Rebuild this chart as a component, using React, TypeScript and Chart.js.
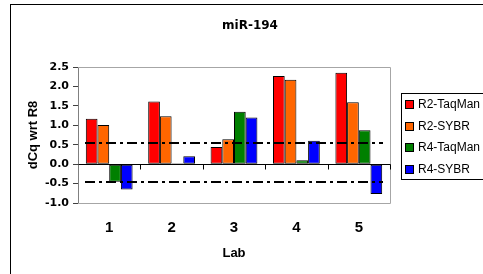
import React, { useEffect, useRef } from "react";
import { Chart, registerables } from "chart.js";

Chart.register(...registerables);

const chartTitle = "miR-194";
const xTitle = "Lab";
const yTitle = "dCq wrt R8";
const categories = ["1", "2", "3", "4", "5"];
const seriesNames = ["R2-TaqMan", "R2-SYBR", "R4-TaqMan", "R4-SYBR"];
const seriesColors = ["#FF0000", "#FF6600", "#008000", "#0000FF"];
const r2TaqMan = [1.17, 1.61, 0.44, 2.27, 2.35];
const r2Sybr = [1.01, 1.23, 0.64, 2.17, 1.59];
const r4TaqMan = [-0.45, 0.02, 1.35, 0.1, 0.87];
const r4Sybr = [-0.65, 0.2, 1.2, 0.6, -0.77];
const thresholds = [0.55, -0.45];
const yMin = -1.0;
const yMax = 2.5;
const yStep = 0.5;

const decor = {
  id: "decor",
  beforeDraw(chart: any) {
    const { ctx, width, height } = chart;
    ctx.save();
    ctx.fillStyle = "#ffffff";
    ctx.fillRect(0, 0, width, height);
    ctx.restore();
  },
  afterDatasetsDraw(chart: any) {
    const { ctx, chartArea: a, scales } = chart;
    const xs = scales.x;
    const ys = scales.y;
    ctx.save();
    // plot border
    ctx.strokeStyle = "#a6a6a6";
    ctx.lineWidth = 1;
    const L = Math.round(a.left) + 0.5;
    const T = Math.round(a.top) + 0.5;
    const R = Math.round(a.right) + 0.5;
    const B = Math.round(a.bottom) + 0.5;
    ctx.beginPath();
    ctx.moveTo(L, T);
    ctx.lineTo(R, T);
    ctx.lineTo(R, B);
    ctx.lineTo(L, B);
    ctx.stroke();
    ctx.strokeStyle = "#808080";
    ctx.beginPath();
    ctx.moveTo(L, T);
    ctx.lineTo(L, B);
    ctx.stroke();

    // zero line with category ticks
    const y0 = Math.round(ys.getPixelForValue(0)) + 0.5;
    ctx.strokeStyle = "#000000";
    ctx.beginPath();
    ctx.moveTo(L, y0);
    ctx.lineTo(R, y0);
    const n = categories.length;
    for (let i = 0; i < n; i++) {
      const xb =
        i < n - 1
          ? (xs.getPixelForValue(i) + xs.getPixelForValue(i + 1)) / 2
          : a.right;
      const xx = Math.round(xb) + 0.5;
      ctx.moveTo(xx, y0);
      ctx.lineTo(xx, y0 + 5);
    }
    ctx.stroke();

    // threshold dash-dot lines
    ctx.lineWidth = 2;
    ctx.setLineDash([10, 4, 3, 4]);
    for (const t of thresholds) {
      const yy = Math.round(ys.getPixelForValue(t));
      ctx.beginPath();
      ctx.moveTo(a.left + 7, yy);
      ctx.lineTo(a.right - 7, yy);
      ctx.stroke();
    }
    ctx.setLineDash([]);

    // titles
    ctx.fillStyle = "#000000";
    ctx.textAlign = "center";
    ctx.textBaseline = "middle";
    ctx.font = "bold 12px 'DejaVu Sans'";
    ctx.fillText(chartTitle, 250, 26);
    ctx.font = "bold 13px 'Liberation Sans'";
    ctx.fillText(xTitle, (a.left + a.right) / 2, 253);
    ctx.save();
    ctx.translate(33, (a.top + a.bottom) / 2);
    ctx.rotate(-Math.PI / 2);
    ctx.fillText(yTitle, 0, 0);
    ctx.restore();

    // legend
    const lx = 401.5;
    const ly = 93.5;
    const lh = 86;
    ctx.lineWidth = 1;
    ctx.strokeStyle = "#000000";
    ctx.strokeRect(lx, ly, 200, lh);
    ctx.textAlign = "left";
    ctx.font = "12px 'Liberation Sans'";
    const ds = chart.data.datasets;
    const rowH = lh / ds.length;
    ds.forEach((d: any, i: number) => {
      const cy = ly + rowH * (i + 0.5);
      ctx.fillStyle = d.backgroundColor;
      ctx.fillRect(405, Math.round(cy - 4), 8, 8);
      ctx.strokeRect(405.5, Math.round(cy - 4) + 0.5, 8, 8);
      ctx.fillStyle = "#000000";
      ctx.fillText(d.label, 418, cy + 0.5);
    });

    // outer frame
    ctx.strokeStyle = "#000000";
    ctx.strokeRect(10.5, 4.5, 600, 400);
    ctx.restore();
  },
};

export default function App() {
  const ref = useRef<HTMLCanvasElement | null>(null);
  useEffect(() => {
    document.body.style.margin = "0";
    const values = [r2TaqMan, r2Sybr, r4TaqMan, r4Sybr];
    const chart = new Chart(ref.current as HTMLCanvasElement, {
      type: "bar",
      data: {
        labels: categories,
        datasets: values.map((v, i) => ({
          label: seriesNames[i],
          data: v,
          backgroundColor: seriesColors[i],
          borderColor: "#000000",
          borderWidth: 1,
          borderSkipped: false,
          categoryPercentage: 0.75,
          barPercentage: 1.0,
        })),
      },
      options: {
        responsive: false,
        animation: false,
        layout: { padding: { left: 0, right: 93, top: 67, bottom: 0 } },
        plugins: {
          legend: { display: false },
          title: { display: false },
          tooltip: { enabled: false },
        },
        scales: {
          x: {
            type: "category",
            grid: { display: false, drawTicks: false },
            border: { display: false },
            ticks: {
              color: "#000000",
              font: { family: "'Liberation Sans'", size: 15, weight: "bold" },
              padding: 16,
              maxRotation: 0,
              autoSkip: false,
            },
            afterFit: (s: any) => {
              s.height = 71;
            },
          },
          y: {
            type: "linear",
            min: yMin,
            max: yMax,
            grid: {
              display: true,
              drawOnChartArea: false,
              drawTicks: true,
              tickLength: 5,
              color: "#404040",
            },
            border: { display: false },
            ticks: {
              stepSize: yStep,
              color: "#000000",
              padding: 4,
              font: { family: "'DejaVu Sans'", size: 11, weight: "bold" },
              callback: (v: any) => Number(v).toFixed(1),
            },
            afterFit: (s: any) => {
              s.width = 78;
            },
          },
        },
      },
      plugins: [decor],
    });
    return () => chart.destroy();
  }, []);
  return <canvas ref={ref} width={483} height={274} style={{ display: "block" }} />;
}
